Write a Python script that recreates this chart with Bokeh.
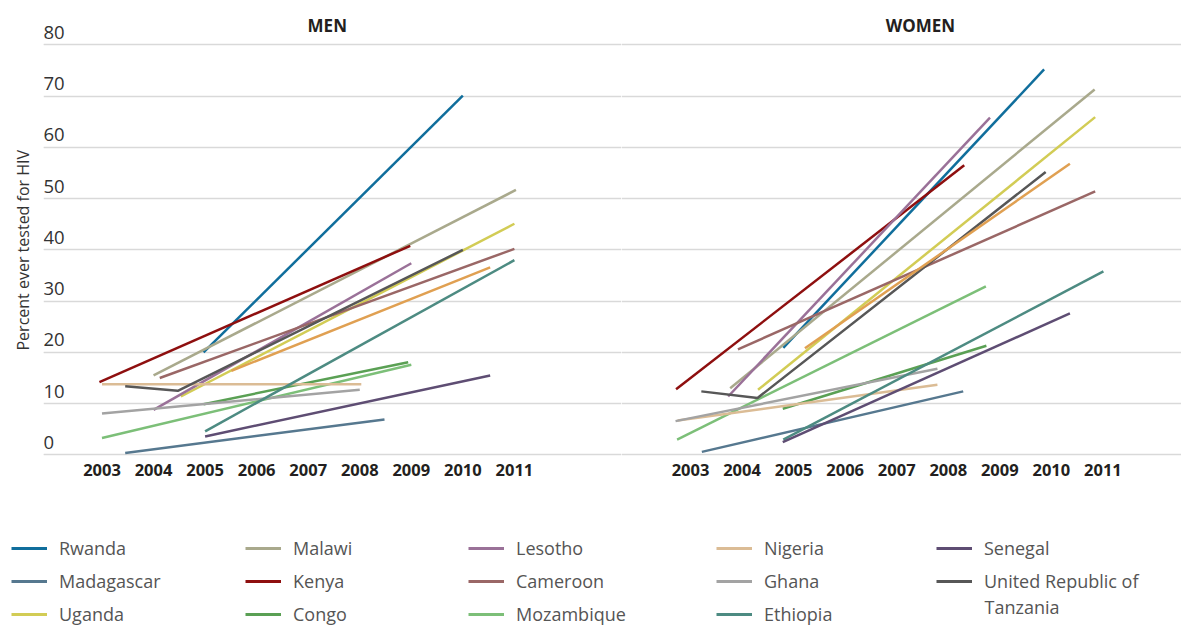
from bokeh.plotting import figure
from bokeh.layouts import column, row
from bokeh.models import FixedTicker, Range1d, Title, Legend, LegendItem, Grid
from bokeh.core.properties import value
from bokeh.embed import file_html
from bokeh.resources import INLINE

FONT = "Open Sans"

# ---------------- data ----------------
COUNTRIES = ["Rwanda", "Madagascar", "Uganda",
             "Malawi", "Kenya", "Congo",
             "Lesotho", "Cameroon", "Mozambique",
             "Nigeria", "Ghana", "Ethiopia",
             "Senegal", "United Republic of\nTanzania", "Zimbabwe"]
COLORS = ["#106e9c", "#56788f", "#d2cc55",
          "#a9a98c", "#8e0f0f", "#5aa054",
          "#9a7198", "#9a6766", "#7cbf78",
          "#dbbc95", "#a3a3a3", "#4d8b82",
          "#5e4d73", "#575757", "#e0a052"]
IN_LEGEND = [True] * 14 + [False]

MEN_YEARS = [[2004.97, 2010.0], [2003.45, 2008.48], [2004.53, 2011.0],
             [2004.0, 2011.03], [2002.95, 2008.98], [2004.97, 2008.94],
             [2004.0, 2009.0], [2004.12, 2011.0], [2003.0, 2009.0],
             [2003.0, 2008.03], [2003.0, 2008.0], [2005.0, 2011.0],
             [2005.0, 2010.53], [2003.45, 2004.47, 2010.0], [2005.51, 2010.53]]
MEN_VALUES = [[20.0, 70.1], [0.4, 6.9], [11.4, 45.1],
              [15.5, 51.7], [14.2, 40.8], [9.9, 18.1],
              [8.8, 37.4], [15.0, 40.2], [3.3, 17.6],
              [13.8, 13.8], [8.1, 12.7], [4.6, 38.0],
              [3.6, 15.5], [13.4, 12.5, 40.0], [16.4, 36.6]]

WOMEN_YEARS = [[2004.8, 2009.86], [2003.22, 2008.29], [2004.31, 2010.85],
               [2003.77, 2010.84], [2002.72, 2008.31], [2004.79, 2008.74],
               [2003.73, 2008.81], [2003.92, 2010.85], [2002.74, 2008.73],
               [2002.75, 2007.79], [2002.71, 2007.79], [2004.8, 2011.01],
               [2004.79, 2010.36], [2003.21, 2004.3, 2009.89], [2005.22, 2010.36]]
WOMEN_VALUES = [[20.9, 75.2], [0.6, 12.4], [12.7, 65.9],
                [13.0, 71.3], [12.8, 56.5], [9.0, 21.3],
                [11.4, 65.8], [20.6, 51.4], [3.0, 32.9],
                [6.7, 13.7], [6.6, 16.8], [3.0, 35.8],
                [2.5, 27.6], [12.4, 11.1, 55.2], [20.8, 56.8]]

YEAR_TICKS = list(range(2003, 2012))
PERCENT_TICKS = list(range(0, 90, 10))
PANEL_TITLES = ["MEN", "WOMEN"]
Y_TITLE = "Percent ever tested for HIV"

# ---------------- layout constants ----------------
FRAME_H = 448
TOP = 9
BOTTOM = 40
Y_RANGE = (-0.5, 86.9)
PX_PER_YEAR = 51.55


def make_panel(years, values, title, x_range, frame_width, title_x, left_border, show_y):
    p = figure(frame_width=frame_width, frame_height=FRAME_H,
               x_range=Range1d(*x_range), y_range=Range1d(*Y_RANGE),
               y_axis_location=None, output_backend="svg", toolbar_location=None,
               min_border_left=left_border, min_border_right=0,
               min_border_top=TOP, min_border_bottom=BOTTOM)
    p.outline_line_color = None
    p.background_fill_color = "white"
    p.border_fill_color = "white"
    p.xgrid.visible = False
    g = Grid(dimension=1, ticker=FixedTicker(ticks=PERCENT_TICKS),
             grid_line_color="#d9d9d9", grid_line_width=1.6)
    p.add_layout(g)

    ax = p.xaxis[0]
    ax.ticker = FixedTicker(ticks=YEAR_TICKS)
    ax.axis_line_color = None
    ax.major_tick_line_color = None
    ax.minor_tick_line_color = None
    ax.major_tick_out = 0
    ax.major_tick_in = 0
    ax.major_label_standoff = 6
    ax.major_label_text_font = FONT
    ax.major_label_text_font_style = "bold"
    ax.major_label_text_font_size = "16.5px"
    ax.major_label_text_color = "#231f20"

    for xs, ys, c in zip(years, values, COLORS):
        p.line(xs, ys, line_color=c, line_width=2.5)

    p.text(x=[title_x], y=[83.8], text=[title], text_align="center",
           text_baseline="middle", text_font=value(FONT), text_font_style="bold",
           text_font_size="17px", text_color="#231f20")

    if show_y:
        p.text(x=[x_range[0]] * len(PERCENT_TICKS), y=PERCENT_TICKS,
               text=[str(t) for t in PERCENT_TICKS], text_align="left",
               text_baseline="bottom", x_offset=0, y_offset=-6,
               text_font=value(FONT), text_font_size="18.5px", text_color="#333333")
        t = Title(text=Y_TITLE, align="left", text_font=FONT,
                  text_font_size="16px", text_font_style="normal",
                  text_color="#333333", standoff=19, offset=107)
        p.add_layout(t, "left")
    return p


LEFT_FRAME = (42, 620)
RIGHT_FRAME = (620, 1180)
left_start = 2003 - (100.5 - LEFT_FRAME[0]) / PX_PER_YEAR
right_start = 2003 - (689 - RIGHT_FRAME[0]) / PX_PER_YEAR
left_x = (left_start, left_start + (LEFT_FRAME[1] - LEFT_FRAME[0]) / PX_PER_YEAR)
right_x = (right_start, right_start + (RIGHT_FRAME[1] - RIGHT_FRAME[0]) / PX_PER_YEAR)

men = make_panel(MEN_YEARS, MEN_VALUES, PANEL_TITLES[0], left_x,
                 LEFT_FRAME[1] - LEFT_FRAME[0], 2007.37, LEFT_FRAME[0], True)
women = make_panel(WOMEN_YEARS, WOMEN_VALUES, PANEL_TITLES[1], right_x,
                   RIGHT_FRAME[1] - RIGHT_FRAME[0], 2007.46, 0, False)

# ---------------- legend ----------------
PLOT_H = TOP + FRAME_H + BOTTOM
LEG_H = 626 - PLOT_H
LEG_W = RIGHT_FRAME[1]
lf = figure(width=LEG_W, height=LEG_H, x_range=Range1d(0, LEG_W), y_range=Range1d(0, LEG_H),
            x_axis_location=None, y_axis_location=None, output_backend="svg",
            toolbar_location=None, min_border=0)
lf.outline_line_color = None
lf.xgrid.visible = False
lf.ygrid.visible = False

nan = float("nan")
renderers = []
for c in COLORS:
    renderers.append(lf.line(x=[nan], y=[nan], line_color=c, line_width=3))

col_x = [11, 245, 468, 716, 936]
first_row_center = 548 - PLOT_H
GH, SP = 26, 7
GW, STANDOFF = 36, 12
idx = [i for i in range(len(COUNTRIES)) if IN_LEGEND[i]]
for k, x0 in enumerate(col_x):
    chunk = idx[3 * k:3 * k + 3]
    items = []
    extra_lines = []
    for i in chunk:
        lines = COUNTRIES[i].split("\n")
        items.append(LegendItem(label=lines[0], renderers=[renderers[i]]))
        extra_lines.extend(lines[1:])
    n = len(items)
    top_from_bottom = LEG_H - (first_row_center - GH / 2)
    height = n * GH + (n - 1) * SP
    leg = Legend(items=items, location=(x0, top_from_bottom - height),
                 padding=0, margin=0, spacing=SP, glyph_width=GW, glyph_height=GH,
                 label_standoff=STANDOFF, label_text_font=FONT, label_text_font_size="18px",
                 label_text_color="#555555", background_fill_alpha=0,
                 border_line_color=None)
    lf.add_layout(leg, "center")
    # continuation lines of wrapped labels, set under the last item's label
    for j, txt in enumerate(extra_lines):
        row_center = first_row_center + (n - 1) * (GH + SP) + (j + 1) * 25
        lf.text(x=[x0 + GW + STANDOFF], y=[LEG_H - row_center], text=[txt],
                text_align="left", text_baseline="middle", text_font=value(FONT),
                text_font_size="18px", text_color="#555555")

layout = column(row(men, women, spacing=0), lf, spacing=0)

open("out.html", "w").write(file_html(layout, INLINE))
